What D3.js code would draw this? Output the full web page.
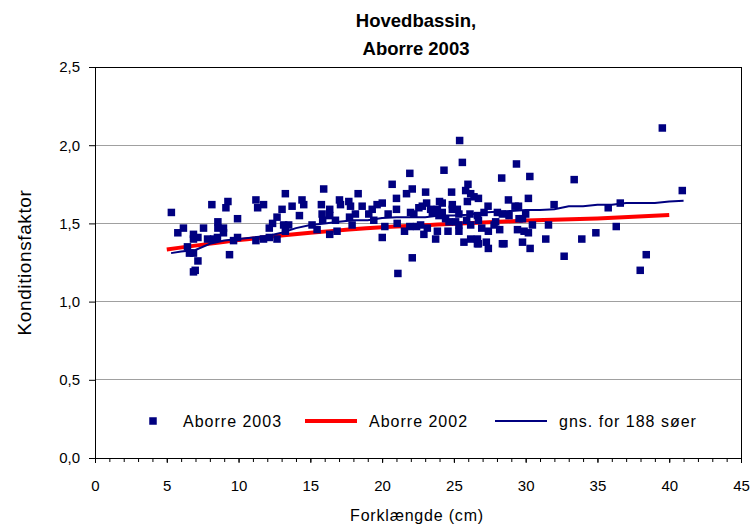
<!DOCTYPE html>
<html><head><meta charset="utf-8">
<script src="https://cdn.jsdelivr.net/npm/d3@7"></script>
<style>body{margin:0;background:#fff;} text{font-family:Arial,"Liberation Sans",sans-serif;fill:#000;}</style>
</head><body><svg id="c" width="752" height="528"></svg>
<script>
const titleLines = ["Hovedbassin,", "Aborre 2003"];
const xLabel = "Forklængde (cm)";
const yLabel = "Konditionsfaktor";
const xTicks = [0,5,10,15,20,25,30,35,40,45];
const yTicks = [0,0.5,1.0,1.5,2.0,2.5];
const seriesNames = ["Aborre 2003", "Aborre 2002", "gns. for 188 søer"];

// Aborre 2003 (scatter)
const scatterX = [5.32,5.77,6.16,6.86,6.86,7.17,6.44,6.58,6.86,7.17,6.86,6.98,7.56,8.14,7.84,8.26,8.56,8.56,8.95,8.95,
  9.12,9.26,9.37,9.65,9.93,9.93,11.21,11.33,11.74,11.21,11.74,12.14,12.14,12.37,12.68,13.03,12.68,13.26,13.73,13.14,
  13.49,13.26,14.42,14.24,14.54,8.53,15.12,15.47,15.93,15.77,15.82,15.86,16.35,16.35,16.35,16.75,16.86,17.03,17.10,17.68,
  17.80,17.73,17.91,18.33,18.61,18.14,19.07,19.31,19.42,19.65,20.01,20.01,20.19,20.42,20.70,21.0,21.0,21.05,21.10,21.56,
  21.70,21.93,22.10,22.10,21.98,22.21,21.93,22.40,22.56,22.80,23.03,23.10,23.38,22.91,23.15,23.73,24.0,23.85,23.96,23.5,
  22.68,23.85,25.40,25.59,24.31,24.19,24.19,24.59,24.84,24.89,24.89,24.42,24.66,25.24,25.35,25.12,25.35,25.35,25.70,25.98,
  25.82,26.17,26.40,25.94,26.12,26.64,26.17,26.17,26.64,26.64,25.89,29.36,28.33,30.29,33.38,26.71,28.80,30.19,27.38,29.26,
  29.50,31.98,27.10,28.03,28.38,28.84,30.0,29.54,29.78,26.71,27.91,27.80,30.47,31.59,26.94,27.40,28.19,29.43,29.89,30.19,
  26.71,27.26,27.40,28.38,28.49,29.78,30.31,31.40,33.91,32.68,39.52,40.91,36.59,35.75,36.31,34.89,38.40,37.98];
const scatterY = [1.57,1.44,1.47,1.43,1.40,1.41,1.35,1.31,1.31,1.26,1.19,1.20,1.47,1.62,1.40,1.40,1.51,1.47,1.47,1.44,
  1.60,1.64,1.30,1.39,1.53,1.41,1.65,1.60,1.62,1.39,1.40,1.41,1.47,1.50,1.54,1.59,1.40,1.69,1.61,1.49,
  1.49,1.45,1.65,1.55,1.62,1.41,1.49,1.46,1.72,1.62,1.56,1.52,1.59,1.55,1.43,1.52,1.45,1.65,1.62,1.64,
  1.61,1.54,1.49,1.69,1.61,1.56,1.56,1.59,1.52,1.62,1.63,1.41,1.48,1.56,1.75,1.66,1.59,1.50,1.18,1.45,
  1.69,1.82,1.72,1.28,1.57,1.56,1.48,1.48,1.60,1.61,1.70,1.63,1.59,1.43,1.47,1.40,1.64,1.59,1.55,1.57,
  1.49,1.45,2.03,1.89,1.84,1.63,1.57,1.45,1.70,1.62,1.59,1.53,1.51,1.59,1.56,1.51,1.49,1.45,1.38,1.75,
  1.71,1.69,1.67,1.64,1.56,1.55,1.49,1.40,1.40,1.37,1.52,1.88,1.79,1.80,1.78,1.66,1.65,1.66,1.61,1.61,
  1.61,1.62,1.57,1.57,1.56,1.55,1.56,1.53,1.53,1.52,1.51,1.49,1.49,1.49,1.47,1.45,1.46,1.46,1.45,1.44,
  1.37,1.38,1.34,1.37,1.37,1.38,1.34,1.40,1.40,1.29,2.11,1.71,1.63,1.60,1.48,1.44,1.30,1.20];

// Aborre 2002 (red line)
const red2002X = [5,10,15,20,25,30,35,40];
const red2002Y = [1.333,1.393,1.44,1.476,1.497,1.518,1.532,1.554];

// gns. for 188 søer (blue line)
const avgX = [5.3,6,7,8,9,10,11,12,13,14,15,16,17,18,19,20,21,22,23,24,25,26,27,28,29,30,31,32,33,34,35,36,37,38,39,40,41];
const avgY = [1.31,1.32,1.33,1.37,1.39,1.40,1.41,1.42,1.44,1.47,1.49,1.50,1.51,1.52,1.52,1.535,1.54,1.54,1.54,1.55,1.55,1.555,1.57,1.575,1.58,1.585,1.585,1.59,1.61,1.61,1.62,1.62,1.63,1.63,1.63,1.64,1.645];

const svg = d3.select("#c");
const m = {left:95, right:11, top:67, bottom:70};
const W = 752, H = 528;
const x = d3.scaleLinear().domain([0,45]).range([m.left, W-m.right]);
const y = d3.scaleLinear().domain([0,2.5]).range([H-m.bottom, m.top]);
const fmt = d => d3.format(".1f")(d).replace(".", ",");

// title
svg.append("text").attr("x",416).attr("y",27).attr("text-anchor","middle")
  .style("font-size","18.5px").style("font-weight","bold").text(titleLines[0]);
svg.append("text").attr("x",416).attr("y",55).attr("text-anchor","middle")
  .style("font-size","18.5px").style("font-weight","bold").text(titleLines[1]);

// gridlines
svg.append("g").selectAll("line").data(yTicks.filter(t=>t>0 && t<2.5)).join("line")
  .attr("x1",x(0)).attr("x2",x(45)).attr("y1",d=>y(d)).attr("y2",d=>y(d))
  .attr("stroke","#a0a0a0").attr("stroke-width",1).attr("shape-rendering","crispEdges");

// plot border
svg.append("rect").attr("x",x(0)).attr("y",y(2.5)).attr("width",x(45)-x(0)).attr("height",y(0)-y(2.5))
  .attr("fill","none").attr("stroke","#000").attr("stroke-width",1).attr("shape-rendering","crispEdges");

// x axis
const xAxis = svg.append("g").attr("transform",`translate(0,${y(0)})`)
  .call(d3.axisBottom(x).tickValues(d3.range(0,46,1)).tickSize(4).tickFormat(""));
xAxis.select(".domain").attr("stroke","#000");
xAxis.selectAll(".tick line").attr("stroke","#000");
const xAxis2 = svg.append("g").attr("transform",`translate(0,${y(0)})`)
  .call(d3.axisBottom(x).tickValues(xTicks).tickSize(5).tickPadding(17).tickFormat(d3.format("d")));
xAxis2.select(".domain").remove();
xAxis2.selectAll("text").style("font-size","15px").style("font-family","Arial, 'Liberation Sans', sans-serif").attr("fill","#000");

// y axis
const yAxis = svg.append("g").attr("transform",`translate(${x(0)},0)`)
  .call(d3.axisLeft(y).tickValues(yTicks).tickSize(6).tickPadding(9).tickFormat(fmt));
yAxis.select(".domain").attr("stroke","#000");
yAxis.selectAll("text").style("font-size","15px").style("font-family","Arial, 'Liberation Sans', sans-serif").attr("fill","#000");

// axis labels
svg.append("text").attr("x",417).attr("y",521).attr("text-anchor","middle").style("font-size","16px")
  .style("letter-spacing","0.8px").text(xLabel);
svg.append("text").attr("transform",`translate(31,${(y(0)+y(2.5))/2}) rotate(-90)`).attr("text-anchor","middle")
  .style("font-size","19px").style("letter-spacing","0.6px").text(yLabel);

const clip = svg.append("g");

// red line
const line = d3.line().x(d=>x(d[0])).y(d=>y(d[1])).curve(d3.curveMonotoneX);
clip.append("path").datum(red2002X.map((v,i)=>[v,red2002Y[i]])).attr("d",line)
  .attr("fill","none").attr("stroke","#ff0000").attr("stroke-width",4);
// blue line
clip.append("path").datum(avgX.map((v,i)=>[v,avgY[i]])).attr("d",d3.line().x(d=>x(d[0])).y(d=>y(d[1])))
  .attr("fill","none").attr("stroke","#000080").attr("stroke-width",2);

// scatter
const ms = 7.5;
clip.selectAll("rect.pt").data(scatterX.map((v,i)=>[v,scatterY[i]])).join("rect").attr("class","pt")
  .attr("x",d=>x(d[0])-ms/2).attr("y",d=>y(d[1])-ms/2).attr("width",ms).attr("height",ms)
  .attr("fill","#000080");

// legend
const ly = 421;
const lg = svg.append("g");
const lfs = "16px", lsp = "1px";
lg.append("rect").attr("x",153-ms/2).attr("y",ly-ms/2).attr("width",ms).attr("height",ms).attr("fill","#000080");
lg.append("text").attr("x",183).attr("y",ly+6).style("font-size",lfs).style("letter-spacing",lsp).text(seriesNames[0]);
lg.append("line").attr("x1",305).attr("x2",357).attr("y1",ly).attr("y2",ly).attr("stroke","#ff0000").attr("stroke-width",4);
lg.append("text").attr("x",369).attr("y",ly+6).style("font-size",lfs).style("letter-spacing",lsp).text(seriesNames[1]);
lg.append("line").attr("x1",495).attr("x2",547).attr("y1",ly).attr("y2",ly).attr("stroke","#000080").attr("stroke-width",2);
lg.append("text").attr("x",559).attr("y",ly+6).style("font-size",lfs).style("letter-spacing",lsp).text(seriesNames[2]);
</script></body></html>
